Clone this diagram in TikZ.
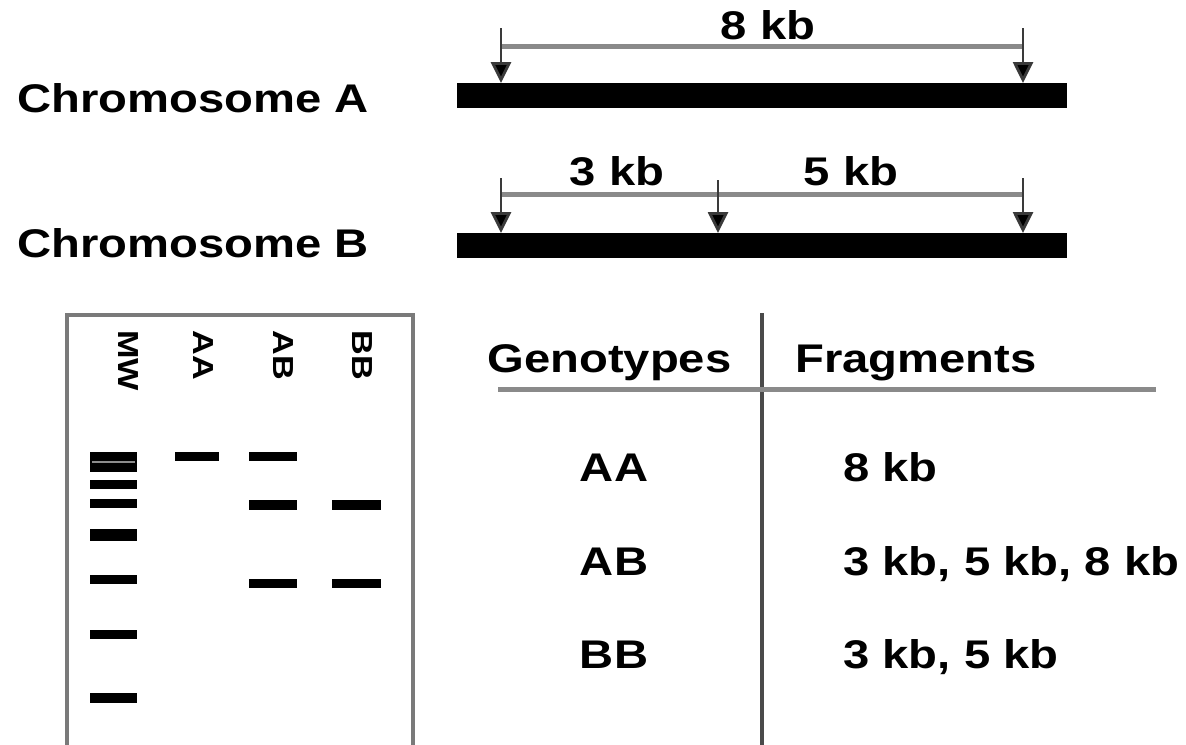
\documentclass[tikz,border=0pt]{standalone}
\usepackage{fontspec}
\setmainfont{Liberation Sans}[FakeStretch=1.18]
\usetikzlibrary{arrows.meta}
\definecolor{dimgray}{HTML}{8A8A8A}
\definecolor{shaft}{HTML}{3A3A3A}
\definecolor{gelframe}{HTML}{7A7A7A}
\definecolor{rule}{HTML}{4A4A4A}
\begin{document}
\begin{tikzpicture}[x=0.5pt,y=-0.5pt,
  lbl/.style={font=\bfseries\fontsize{20pt}{24pt}\selectfont, inner sep=0pt},
  lanelbl/.style={font=\bfseries\fontsize{14.5pt}{16pt}\selectfont, inner sep=0pt, rotate=-90, anchor=west},
  chrbar/.style={fill=black},
  band/.style={fill=black},
  cutarrow/.style={draw=shaft, line width=1.4pt, -{Triangle[width=10pt,length=10.5pt,fill=black]}},
  dimline/.style={draw=dimgray, line width=2.5pt},
  gelbox/.style={draw=gelframe, line width=2pt},
  vrule/.style={draw=rule, line width=2pt},
  hrule/.style={draw=dimgray, line width=2.5pt}]
\useasboundingbox[fill=white] (0,0) rectangle (1186,744);

% chromosome labels
\node[lbl, anchor=base west] (chrA) at (17,112) {Chromosome A};
\node[lbl, anchor=base west] (chrB) at (17,257) {Chromosome B};

% chromosome bars
\fill[chrbar] (457,83) rectangle (1067,108);
\fill[chrbar] (457,233) rectangle (1067,258);

% cut sites, chromosome A
\coordinate (a1t) at (501,28);  \coordinate (a1b) at (501,83);
\coordinate (a2t) at (1023,28); \coordinate (a2b) at (1023,83);
\draw[dimline] (a1t |- 0,46) coordinate (dA1) -- (a2t |- 0,46) coordinate (dA2);
\draw[cutarrow] (a1t) -- (a1b);
\draw[cutarrow] (a2t) -- (a2b);
\node[lbl, anchor=base] (kb8) at (768,39) {8 kb};

% cut sites, chromosome B
\coordinate (b1t) at (501,178);  \coordinate (b1b) at (501,233);
\coordinate (b2t) at (718,180);  \coordinate (b2b) at (718,233);
\coordinate (b3t) at (1023,178); \coordinate (b3b) at (1023,233);
\draw[dimline] (b1t |- 0,194) coordinate (dB1) -- (b3t |- 0,194) coordinate (dB2);
\draw[cutarrow] (b1t) -- (b1b);
\draw[cutarrow] (b2t) -- (b2b);
\draw[cutarrow] (b3t) -- (b3b);
\node[lbl, anchor=base] (kb3) at (617,185) {3 kb};
\node[lbl, anchor=base] (kb5) at (851,185) {5 kb};

% gel
\draw[gelbox] (67,746) -- (67,315) -- (413,315) -- (413,746);
\node[lanelbl] (lMW) at (128,330) {MW};
\node[lanelbl] (lAA) at (203,330) {AA};
\node[lanelbl] (lAB) at (283,330) {AB};
\node[lanelbl] (lBB) at (362,330) {BB};

% marker lane
\fill[band] (90,452) rectangle (137,472);
\fill[black!45] (92,461) rectangle (135,463);
\foreach \ya/\yb in {480/489, 499/508, 529/541, 575/584, 630/639, 693/703}
  \fill[band] (90,\ya) rectangle (137,\yb);
% AA lane
\fill[band] (175,452) rectangle (219,461);
% AB lane
\fill[band] (249,452) rectangle (297,461);
\fill[band] (249,500) rectangle (297,510);
\fill[band] (249,579) rectangle (297,588);
% BB lane
\fill[band] (332,500) rectangle (381,510);
\fill[band] (332,579) rectangle (381,588);

% table
\draw[vrule] (762,313) coordinate (vt) -- (762,746) coordinate (vb);
\draw[hrule] (498,389) coordinate (hl) -- (1156,389) coordinate (hr);
\node[lbl, anchor=base west] (hGen) at (487,372) {Genotypes};
\node[lbl, anchor=base west] (hFrag) at (795,372) {Fragments};

\node[lbl, anchor=base] (gAA) at (614,481) {AA};
\node[lbl, anchor=base] (gAB) at (614,575) {AB};
\node[lbl, anchor=base] (gBB) at (614,668) {BB};

\node[lbl, anchor=base west] (fAA) at (843,481) {8 kb};
\node[lbl, anchor=base west] (fAB) at (843,575) {3 kb, 5 kb, 8 kb};
\node[lbl, anchor=base west] (fBB) at (843,668) {3 kb, 5 kb};
\end{tikzpicture}
\end{document}
